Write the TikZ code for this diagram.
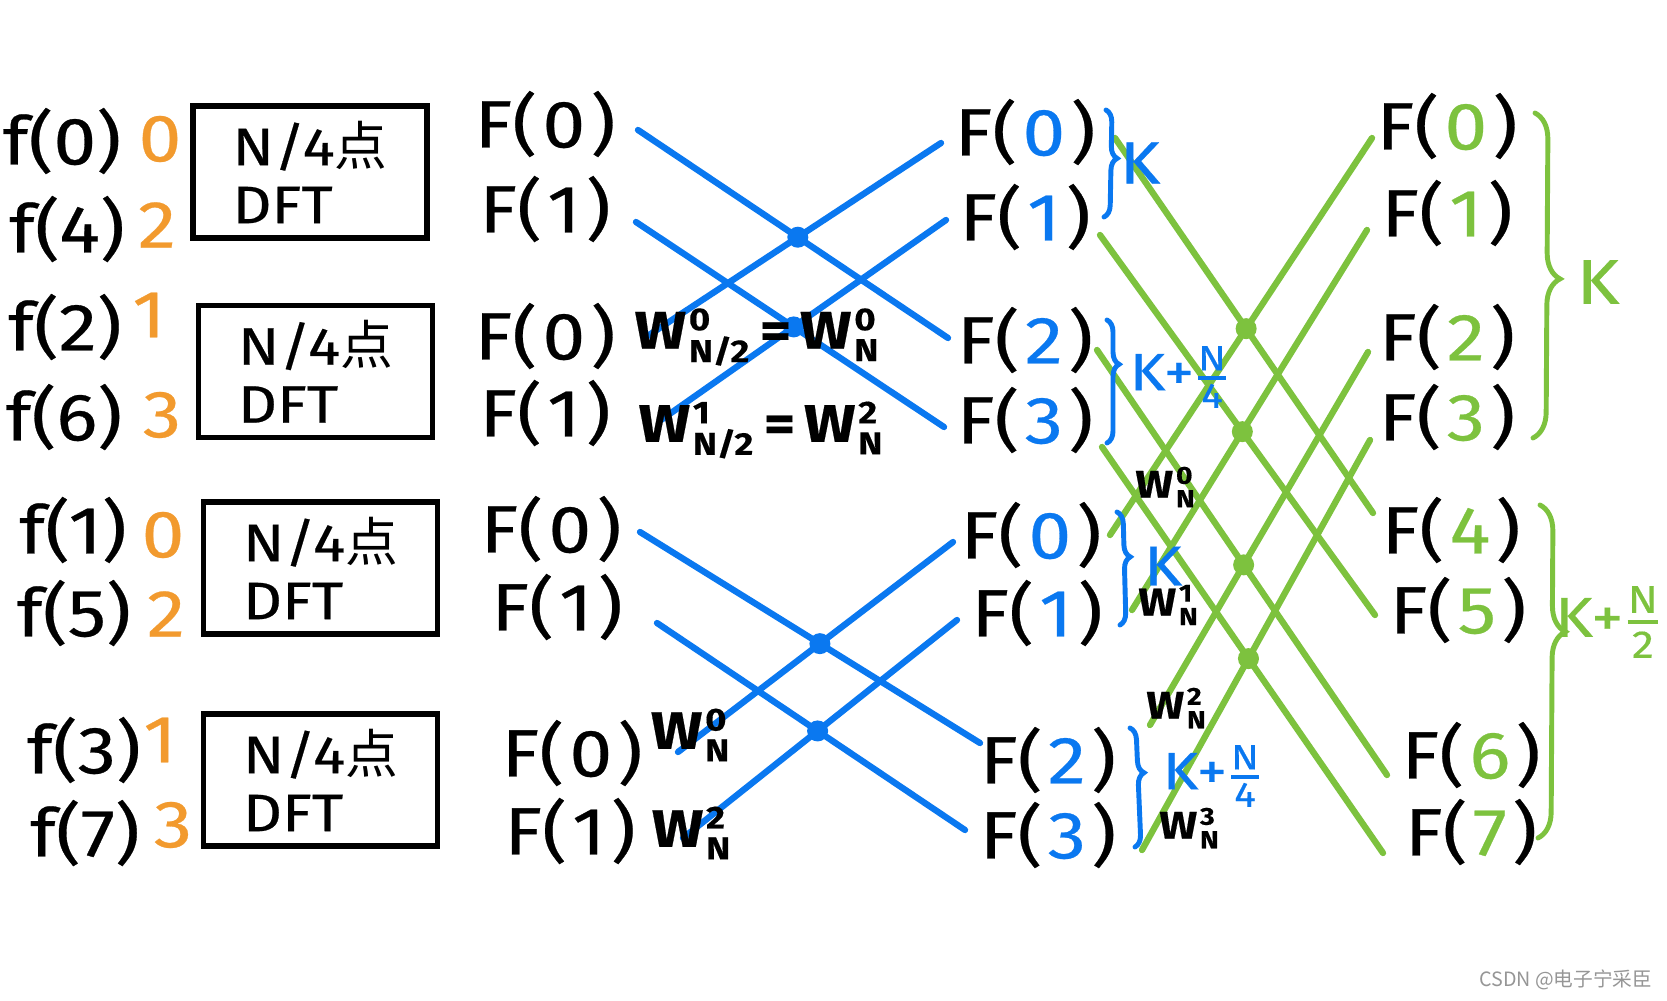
\documentclass[tikz,border=0pt]{standalone}
\usepackage{fontspec}
\setmainfont{Fira Sans}[FakeStretch=1.15,FakeBold=0.4]
\newfontfamily\cjk{Noto Sans CJK SC}
\usetikzlibrary{decorations.pathreplacing}
\definecolor{fblue}{RGB}{10,120,240}
\definecolor{forange}{RGB}{242,154,46}
\definecolor{fgreen}{RGB}{125,194,62}
\definecolor{wmgray}{RGB}{150,150,150}
\newcommand{\FF}[2]{F(\kern1.5pt\textcolor{#1}{#2}\kern1.5pt)}
\newcommand{\Wk}[3]{$\hbox{W}\kern0.8pt^{\hbox{\fontsize{#3}{#3}\selectfont #1}}_{\hbox{\fontsize{#3}{#3}\selectfont #2}}$}
\newcommand{\hfr}[3]{${\hbox{\fontsize{#3}{#3}\selectfont #1}\above1.1pt\hbox{\fontsize{#3}{#3}\selectfont #2}}$}
\begin{document}
\begin{tikzpicture}[x=0.01cm,y=-0.01cm,
  txt/.style={inner sep=0pt, font=\fontsize{19}{21}\selectfont},
  num/.style={txt, text=forange},
  dftbox/.style={draw, line width=1.6pt, minimum width=2.34cm, minimum height=1.32cm,
                 align=left, inner sep=0pt, font=\fontsize{15}{16.5}\selectfont},
  wlab/.style={inner sep=0pt, font=\bfseries\fontsize{15}{15}\selectfont},
  swlab/.style={inner sep=0pt, font=\bfseries\fontsize{11}{11}\selectfont},
  bwire/.style={fblue, line width=1.8pt, line cap=round},
  gwire/.style={fgreen, line width=1.8pt, line cap=round},
  bdot/.style={circle, fill=fblue, inner sep=0pt, minimum size=0.21cm},
  gdot/.style={circle, fill=fgreen, inner sep=0pt, minimum size=0.21cm},
  bbrace/.style={fblue, line width=1.4pt, line cap=round, decorate,
                 decoration={brace, amplitude=0.12cm, aspect=#1}},
  gbrace/.style={fgreen, line width=1.4pt, line cap=round, decorate,
                 decoration={brace, amplitude=0.26cm, aspect=#1}},
  blab/.style={inner sep=0pt, text=fblue, font=\fontsize{15}{15}\selectfont},
  glab/.style={inner sep=0pt, text=fgreen, font=\fontsize{16}{16}\selectfont},
  wm/.style={inner sep=0pt, text=wmgray, font=\cjk\fontsize{5.6}{6}\selectfont}
]
\fill[white] (0,0) rectangle (1667,1000);
\useasboundingbox (0,0) rectangle (1667,1000);

% ---------- inputs ----------
\node[txt] (x0) at (62,141) {f(0)};  \node[num] (n0) at (160,139) {0};
\node[txt] (x4) at (67,229) {f(4)};  \node[num] (n4) at (157,225) {2};
\node[txt] (x2) at (65,327) {f(2)};  \node[num] (n2) at (149,315) {1};
\node[txt] (x6) at (64,417) {f(6)};  \node[num] (n6) at (162,415) {3};
\node[txt] (x1) at (73,530) {f(1)};  \node[num] (n1) at (163,535) {0};
\node[txt] (x5) at (74,613) {f(5)};  \node[num] (n5) at (166,614) {2};
\node[txt] (x3) at (84,750) {f(3)};  \node[num] (n3) at (160,740) {1};
\node[txt] (x7) at (85,833) {f(7)};  \node[num] (n7) at (173,825) {3};

% ---------- DFT boxes ----------
\node[dftbox] (box1) at (310,172) {N/4{\cjk 点}\\DFT};
\node[dftbox] (box2) at (315.5,371.5) {N/4{\cjk 点}\\DFT};
\node[dftbox] (box3) at (320.5,568) {N/4{\cjk 点}\\DFT};
\node[dftbox] (box4) at (320.5,780) {N/4{\cjk 点}\\DFT};

% ---------- column 2 ----------
\node[txt] (a0) at (545,124) {\FF{black}{0}};
\node[txt] (a1) at (545,209) {\FF{black}{1}};
\node[txt] (a2) at (545,336) {\FF{black}{0}};
\node[txt] (a3) at (545,413) {\FF{black}{1}};
\node[txt] (a4) at (551,529) {\FF{black}{0}};
\node[txt] (a5) at (557,607) {\FF{black}{1}};
\node[txt] (a6) at (572,753) {\FF{black}{0}};
\node[txt] (a7) at (570,831) {\FF{black}{1}};

% ---------- column 3 ----------
\node[txt] (c0) at (1025,132) {\FF{fblue}{0}};
\node[txt] (c1) at (1025,217) {\FF{fblue}{1}};
\node[txt] (c2) at (1025,340) {\FF{fblue}{2}};
\node[txt] (c3) at (1025,420) {\FF{fblue}{3}};
\node[txt] (c4) at (1031,535) {\FF{fblue}{0}};
\node[txt] (c5) at (1037,613) {\FF{fblue}{1}};
\node[txt] (c6) at (1048,760) {\FF{fblue}{2}};
\node[txt] (c7) at (1048,835) {\FF{fblue}{3}};

% ---------- column 4 ----------
\node[txt] (d0) at (1447,126) {\FF{fgreen}{0}};
\node[txt] (d1) at (1447,213) {\FF{fgreen}{1}};
\node[txt] (d2) at (1447,337) {\FF{fgreen}{2}};
\node[txt] (d3) at (1447,417) {\FF{fgreen}{3}};
\node[txt] (d4) at (1451,530) {\FF{fgreen}{4}};
\node[txt] (d5) at (1458,610) {\FF{fgreen}{5}};
\node[txt] (d6) at (1471,755) {\FF{fgreen}{6}};
\node[txt] (d7) at (1471,832) {\FF{fgreen}{7}};

% ---------- blue butterflies (stage 2) ----------
\coordinate (b1s) at (638,130); \coordinate (b1e) at (948,338);
\coordinate (b2s) at (636,222); \coordinate (b2e) at (944,427);
\coordinate (b3s) at (646,337); \coordinate (b3e) at (941,143);
\coordinate (b4s) at (661,420); \coordinate (b4e) at (946,220);
\coordinate (b5s) at (640,532); \coordinate (b5e) at (980,743);
\coordinate (b6s) at (657,623); \coordinate (b6e) at (965,830);
\coordinate (b7s) at (678,752); \coordinate (b7e) at (953,542);
\coordinate (b8s) at (683,838); \coordinate (b8e) at (957,620);
\foreach \i in {1,...,8} {\draw[bwire] (b\i s) -- (b\i e);}
\node[bdot] (bd1) at (intersection of b1s--b1e and b3s--b3e) {};
\node[bdot] (bd2) at (intersection of b2s--b2e and b4s--b4e) {};
\node[bdot] (bd3) at (intersection of b5s--b5e and b7s--b7e) {};
\node[bdot] (bd4) at (intersection of b6s--b6e and b8s--b8e) {};

% twiddle labels, stage 2
\node[wlab, anchor=west] (w1) at (634,337) {\Wk{0}{N/2}{9}\,=\,\Wk{0}{N}{9}};
\node[wlab, anchor=west] (w2) at (638,430) {\Wk{1}{N/2}{9}\,=\,\Wk{2}{N}{9}};
\node[wlab] (w3) at (691,735) {\Wk{0}{N}{9}};
\node[wlab] (w4) at (692,833) {\Wk{2}{N}{9}};

% ---------- green butterflies (stage 3) ----------
\coordinate (gd0s) at (1115,138); \coordinate (gd0e) at (1373,513);
\coordinate (gd1s) at (1100,235); \coordinate (gd1e) at (1375,615);
\coordinate (gd2s) at (1097,350); \coordinate (gd2e) at (1387,775);
\coordinate (gd3s) at (1102,447); \coordinate (gd3e) at (1383,853);
\coordinate (gu0s) at (1110,535); \coordinate (gu0e) at (1372,138);
\coordinate (gu1s) at (1132,610); \coordinate (gu1e) at (1367,230);
\coordinate (gu2s) at (1150,725); \coordinate (gu2e) at (1368,352);
\coordinate (gu3s) at (1142,850); \coordinate (gu3e) at (1370,440);
\foreach \i in {0,...,3} {
  \draw[gwire] (gd\i s) -- (gd\i e);
  \draw[gwire] (gu\i s) -- (gu\i e);
  \node[gdot] (gdot\i) at (intersection of gd\i s--gd\i e and gu\i s--gu\i e) {};
}

% twiddle labels, stage 3
\node[swlab] (gw0) at (1166,487) {\Wk{0}{N}{7}};
\node[swlab] (gw1) at (1169,605) {\Wk{1}{N}{7}};
\node[swlab] (gw2) at (1177,708) {\Wk{2}{N}{7}};
\node[swlab] (gw3) at (1190,828) {\Wk{3}{N}{7}};

% ---------- blue braces ----------
\coordinate (br1a) at (1106,110); \coordinate (br1b) at (1104,217);
\coordinate (br2a) at (1107,320); \coordinate (br2b) at (1107,443);
\coordinate (br3a) at (1117,512); \coordinate (br3b) at (1120,625);
\coordinate (br4a) at (1130,728); \coordinate (br4b) at (1135,847);
\draw[bbrace=0.45] (br1a) -- (br1b);
\draw[bbrace=0.36] (br2a) -- (br2b);
\draw[bbrace=0.4] (br3a) -- (br3b);
\draw[bbrace=0.38] (br4a) -- (br4b);
\node[blab, font=\fontsize{17}{17}\selectfont] (k1) at (1140,163) {K};
\node[blab, anchor=west] (k2) at (1129,377) {K\kern-0.5pt+\hfr{N}{4}{10}};
\node[blab, font=\fontsize{16}{16}\selectfont] (k3) at (1163,566) {K};
\node[blab, anchor=west] (k4) at (1162,776) {K\kern-0.5pt+\hfr{N}{4}{10}};

% ---------- green braces ----------
\coordinate (gb1a) at (1535,113); \coordinate (gb1b) at (1533,438);
\coordinate (gb2a) at (1540,505); \coordinate (gb2b) at (1538,838);
\draw[gbrace=0.51] (gb1a) -- (gb1b);
\draw[gbrace=0.38] (gb2a) -- (gb2b);
\node[glab, font=\fontsize{18}{18}\selectfont] (kg1) at (1598,282) {K};
\node[glab, anchor=east] (kg2) at (1663,622) {K\kern-0.5pt+\hfr{N}{2}{11}};

% ---------- watermark ----------
\node[wm, anchor=east] (wmark) at (1653,980) {CSDN @电子宁采臣};
\end{tikzpicture}
\end{document}
